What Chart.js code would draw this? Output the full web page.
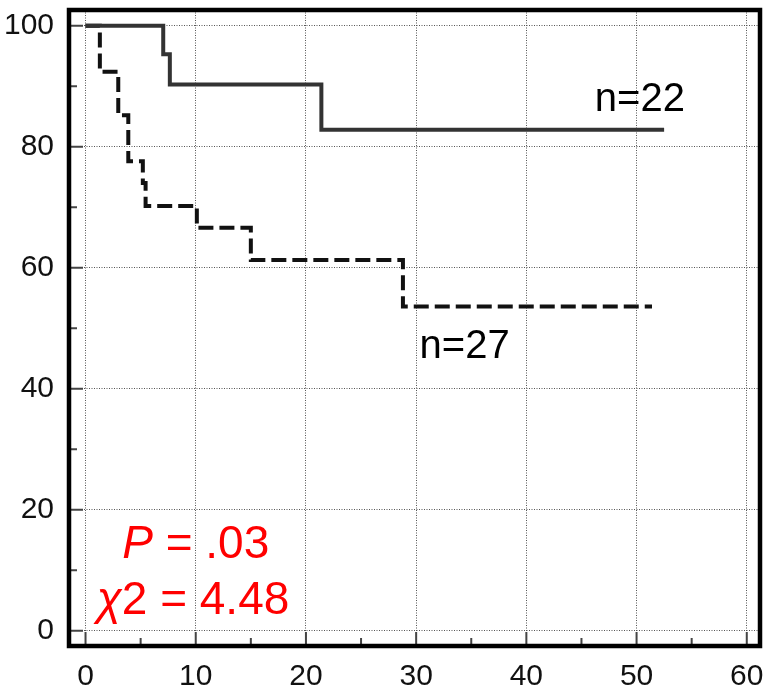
<!DOCTYPE html>
<html>
<head>
<meta charset="utf-8">
<script src="https://cdn.jsdelivr.net/npm/chart.js@4"></script>
<style>
  html, body { margin: 0; padding: 0; background: #fff; }
  #wrap { width: 767px; height: 692px; }
</style>
</head>
<body>
<div id="wrap"><canvas id="chart" width="767" height="692"></canvas></div>
<script>
// survival curves (time, percent surviving)
var timeA = [0, 7.05, 7.65, 21.4, 52.5];          // n=22, solid
var survA = [100, 95.3, 90.3, 82.8, 82.8];
var timeB = [0, 1.3, 2.97, 3.88, 5.2, 5.45, 10.1, 15.0, 28.8, 51.4];   // n=27, dashed
var survB = [100, 92.4, 85.2, 77.6, 74.0, 70.2, 66.6, 61.3, 53.6, 53.6];

var xTicks = [0, 10, 20, 30, 40, 50, 60];
var xMinor = [5, 15, 25, 35, 45, 55];
var yTicks = [0, 20, 40, 60, 80, 100];
var yMinor = [10, 30, 50, 70, 90];

var labelA = 'n=22';
var labelB = 'n=27';
var pText = ' = .03';
var chiText = '2 = 4.48';

function pts(xs, ys) {
  return xs.map(function (x, i) { return { x: x, y: ys[i] }; });
}

var font = "'Liberation Sans', Arial, sans-serif";

// chart.js reserves room for half of the end labels; drop that so the frame sits where I want it
function noPad(s) {
  s.paddingTop = 0; s.paddingBottom = 0; s.paddingLeft = 0; s.paddingRight = 0;
}

var frame = {
  id: 'frame',
  afterDraw: function (c) {
    var ctx = c.ctx, a = c.chartArea, xs = c.scales.x, ys = c.scales.y;
    ctx.save();
    // inward tick marks
    ctx.strokeStyle = '#444';
    ctx.lineWidth = 2;
    ctx.beginPath();
    xTicks.forEach(function (v) { var p = xs.getPixelForValue(v); ctx.moveTo(p, a.bottom); ctx.lineTo(p, a.bottom - 14); });
    xMinor.forEach(function (v) { var p = xs.getPixelForValue(v); ctx.moveTo(p, a.bottom); ctx.lineTo(p, a.bottom - 8); });
    yTicks.forEach(function (v) { var p = ys.getPixelForValue(v); ctx.moveTo(a.left, p); ctx.lineTo(a.left + 14, p); });
    yMinor.forEach(function (v) { var p = ys.getPixelForValue(v); ctx.moveTo(a.left, p); ctx.lineTo(a.left + 8, p); });
    ctx.stroke();
    // frame
    ctx.strokeStyle = '#000';
    ctx.lineWidth = 4.5;
    ctx.strokeRect(a.left, a.top, a.right - a.left, a.bottom - a.top);

    // group labels
    ctx.fillStyle = '#000';
    ctx.textBaseline = 'middle';
    ctx.textAlign = 'center';
    ctx.font = '40px ' + font;
    ctx.fillText(labelA, xs.getPixelForValue(50.3), ys.getPixelForValue(87.7));
    ctx.fillText(labelB, xs.getPixelForValue(34.4), ys.getPixelForValue(46.9));

    // statistics, red
    ctx.fillStyle = '#ff0000';
    ctx.textAlign = 'left';
    var italic = 'italic 46px ' + font, normal = '46px ' + font;
    function line(first, rest, cx, cy) {
      ctx.font = italic; var w1 = ctx.measureText(first).width;
      ctx.font = normal; var w2 = ctx.measureText(rest).width;
      var x0 = cx - (w1 + w2) / 2;
      ctx.font = italic; ctx.fillText(first, x0, cy);
      ctx.font = normal; ctx.fillText(rest, x0 + w1, cy);
    }
    line('P', pText, xs.getPixelForValue(10.0), ys.getPixelForValue(14.2));
    line('\u03c7', chiText, xs.getPixelForValue(9.75), ys.getPixelForValue(4.9));
    ctx.restore();
  }
};

var chart = new Chart(document.getElementById('chart').getContext('2d'), {
  type: 'line',
  data: {
    datasets: [{
      label: labelA,
      data: pts(timeA, survA),
      borderColor: '#333',
      borderWidth: 4,
      stepped: true,
      pointRadius: 0,
      fill: false
    }, {
      label: labelB,
      data: pts(timeB, survB),
      borderColor: '#111',
      borderWidth: 4,
      borderDash: [15, 6],
      stepped: true,
      pointRadius: 0,
      fill: false
    }]
  },
  options: {
    responsive: false,
    animation: false,
    layout: { padding: { left: 0, right: 7, top: 10, bottom: 0 } },
    plugins: { legend: { display: false }, tooltip: { enabled: false } },
    scales: {
      x: {
        type: 'linear',
        min: -1.5,
        max: 61.2,
        afterBuildTicks: function (s) { s.ticks = xTicks.map(function (v) { return { value: v }; }); },
        afterFit: function (s) { s.height = 46; noPad(s); },
        grid: { color: '#555', lineWidth: 1, drawTicks: false },
        border: { display: false, dash: [1, 1.5] },
        ticks: { color: '#111', padding: 13, maxRotation: 0, font: { family: font, size: 30 } }
      },
      y: {
        min: -2.5,
        max: 102.6,
        afterBuildTicks: function (s) { s.ticks = yTicks.map(function (v) { return { value: v }; }); },
        afterFit: function (s) { s.width = 69; noPad(s); },
        grid: { color: '#555', lineWidth: 1, drawTicks: false },
        border: { display: false, dash: [1, 1.5] },
        ticks: { color: '#111', padding: 15, font: { family: font, size: 30 } }
      }
    }
  },
  plugins: [frame]
});
</script>
</body>
</html>
